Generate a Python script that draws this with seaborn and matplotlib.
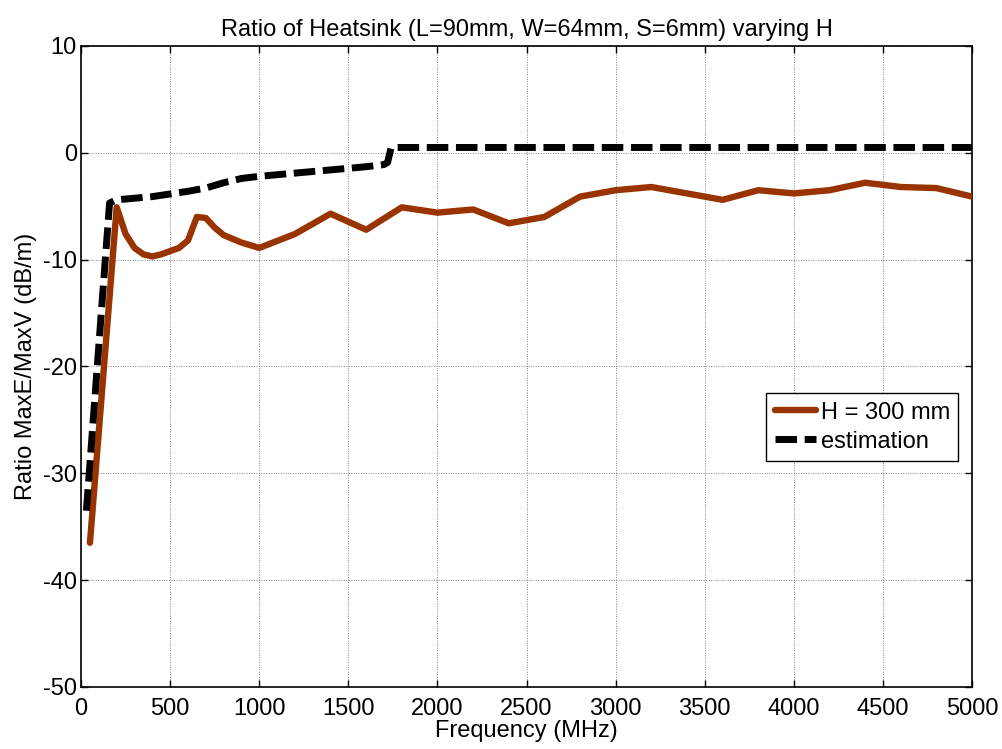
import matplotlib
matplotlib.use("Agg")
import matplotlib.pyplot as plt
import seaborn as sns
import pandas as pd

# Measured ratio for H = 300 mm
freq_meas = [50, 200, 250, 300, 350, 400, 450, 500, 550, 600, 650, 700, 750, 800,
             900, 1000, 1200, 1400, 1600, 1800, 2000, 2200, 2400, 2600, 2800,
             3000, 3200, 3400, 3600, 3800, 4000, 4200, 4400, 4600, 4800, 5000]
ratio_meas = [-36.5, -5.1, -7.6, -8.9, -9.5, -9.7, -9.5, -9.2, -8.9, -8.2, -6.0, -6.1,
              -7.0, -7.7, -8.4, -8.9, -7.6, -5.7, -7.2, -5.1, -5.6, -5.3, -6.6,
              -6.0, -4.1, -3.5, -3.2, -3.8, -4.4, -3.5, -3.8, -3.5, -2.8, -3.2,
              -3.3, -4.1]

# Estimated envelope
freq_est = [30, 160, 200, 400, 600, 700, 800, 900, 1000, 1200, 1400, 1600, 1700,
            1720, 1740, 5000]
ratio_est = [-33.5, -4.7, -4.4, -4.1, -3.6, -3.3, -2.8, -2.4, -2.2, -1.9, -1.6,
             -1.3, -1.1, -0.9, 0.5, 0.5]

x_ticks = [0, 500, 1000, 1500, 2000, 2500, 3000, 3500, 4000, 4500, 5000]
y_ticks = [10, 0, -10, -20, -30, -40, -50]

FS = 17

sns.set_style("white")
plt.rcParams["font.family"] = ["Liberation Sans", "DejaVu Sans"]
plt.rcParams["axes.unicode_minus"] = False
plt.rcParams["text.color"] = "black"
plt.rcParams["axes.labelcolor"] = "black"
plt.rcParams["xtick.color"] = "black"
plt.rcParams["ytick.color"] = "black"

fig = plt.figure(figsize=(10.03, 7.49), dpi=100)
ax = fig.add_axes([0.0808, 0.0828, 0.8884, 0.8558])

df_meas = pd.DataFrame({"f": freq_meas, "r": ratio_meas})
df_est = pd.DataFrame({"f": freq_est, "r": ratio_est})

sns.lineplot(data=df_meas, x="f", y="r", ax=ax, color="#993300", linewidth=4.6,
             label="H = 300 mm", sort=False, zorder=3)
sns.lineplot(data=df_est, x="f", y="r", ax=ax, color="black", linewidth=5.0,
             label="estimation", sort=False, zorder=4)
ax.lines[1].set_dashes((3.1, 1.1))

ax.set_xlim(0, 5000)
ax.set_ylim(-50, 10)
ax.set_xticks(x_ticks)
ax.set_yticks(y_ticks)
ax.tick_params(direction="in", length=5, width=1, labelsize=FS,
               top=True, right=True, bottom=True, left=True)
ax.tick_params(axis="x", pad=8)
ax.tick_params(axis="y", pad=3)
ax.grid(True, color="#666666", linestyle=(0, (1, 1.5)), linewidth=0.7, alpha=0.8)
for s in ax.spines.values():
    s.set_color("black")
    s.set_linewidth(1.2)

ax.set_xlabel("Frequency (MHz)", fontsize=FS, labelpad=0)
ax.set_ylabel("Ratio MaxE/MaxV (dB/m)", fontsize=FS, labelpad=4)
ax.set_title("Ratio of Heatsink (L=90mm, W=64mm, S=6mm) varying H", fontsize=FS, pad=7)

leg = ax.legend(loc="upper left", bbox_to_anchor=(0.769, 0.458), fontsize=FS,
                frameon=True, fancybox=False, shadow=False, framealpha=1,
                handlelength=1.75, handletextpad=0.2, borderpad=0.35,
                labelspacing=0.3, borderaxespad=0)
leg.get_frame().set_edgecolor("black")
leg.get_frame().set_linewidth(1.0)

fig.savefig("out.png", dpi=100)
